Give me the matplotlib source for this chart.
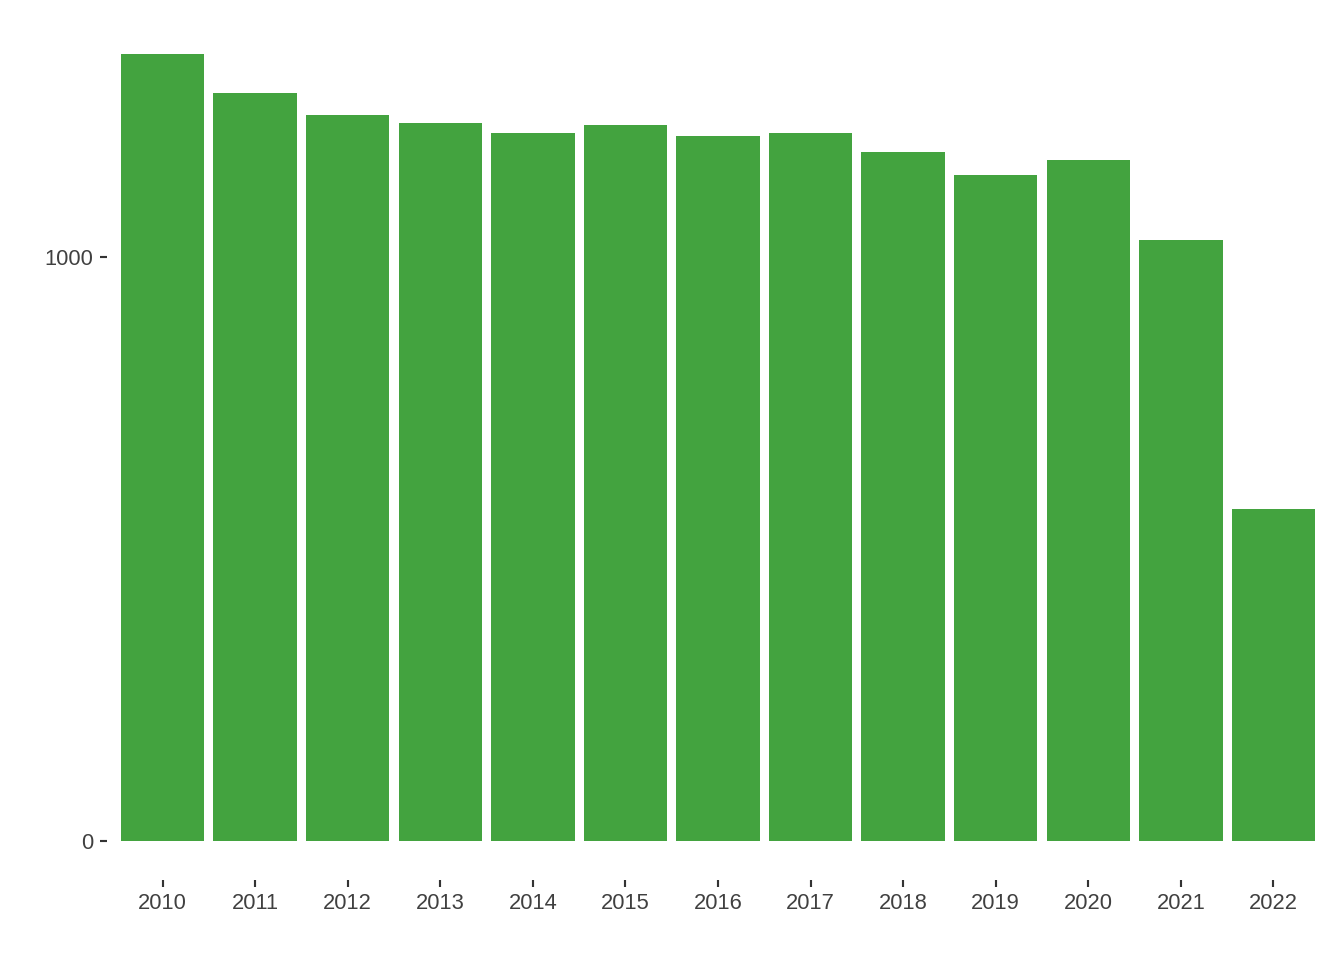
import matplotlib
matplotlib.use("Agg")
import matplotlib.pyplot as plt

years = ["2010", "2011", "2012", "2013", "2014", "2015", "2016",
         "2017", "2018", "2019", "2020", "2021", "2022"]
values = [1348, 1281, 1244, 1230, 1213, 1226, 1208, 1213, 1180, 1141, 1166, 1029, 568]
y_ticks = [0, 1000]

plt.rcParams['font.family'] = ['Liberation Sans', 'DejaVu Sans']

fig = plt.figure(figsize=(7, 5), dpi=192)
ax = fig.add_axes([107/1344, 80/960, (1329-107)/1344, (880-15)/960])

pos = list(range(1, len(years) + 1))
ax.bar(pos, values, width=0.9, color="#43A33F", linewidth=0)

ax.set_xlim(0.4, len(years) + 0.6)
vmax = max(values)
ax.set_ylim(-0.05 * vmax, vmax * 1.05)
ax.set_xticks(pos)
ax.set_xticklabels(years)
ax.set_yticks(y_ticks)
ax.set_yticklabels([str(t) for t in y_ticks])

for s in ax.spines.values():
    s.set_visible(False)
ax.tick_params(axis='both', direction='out', length=2.75, width=0.8,
               color="#333333", labelcolor="#404040", labelsize=8.2, pad=2.4)
ax.tick_params(axis='x', pad=2.2)

fig.savefig("out.png", dpi=192, facecolor="white")
